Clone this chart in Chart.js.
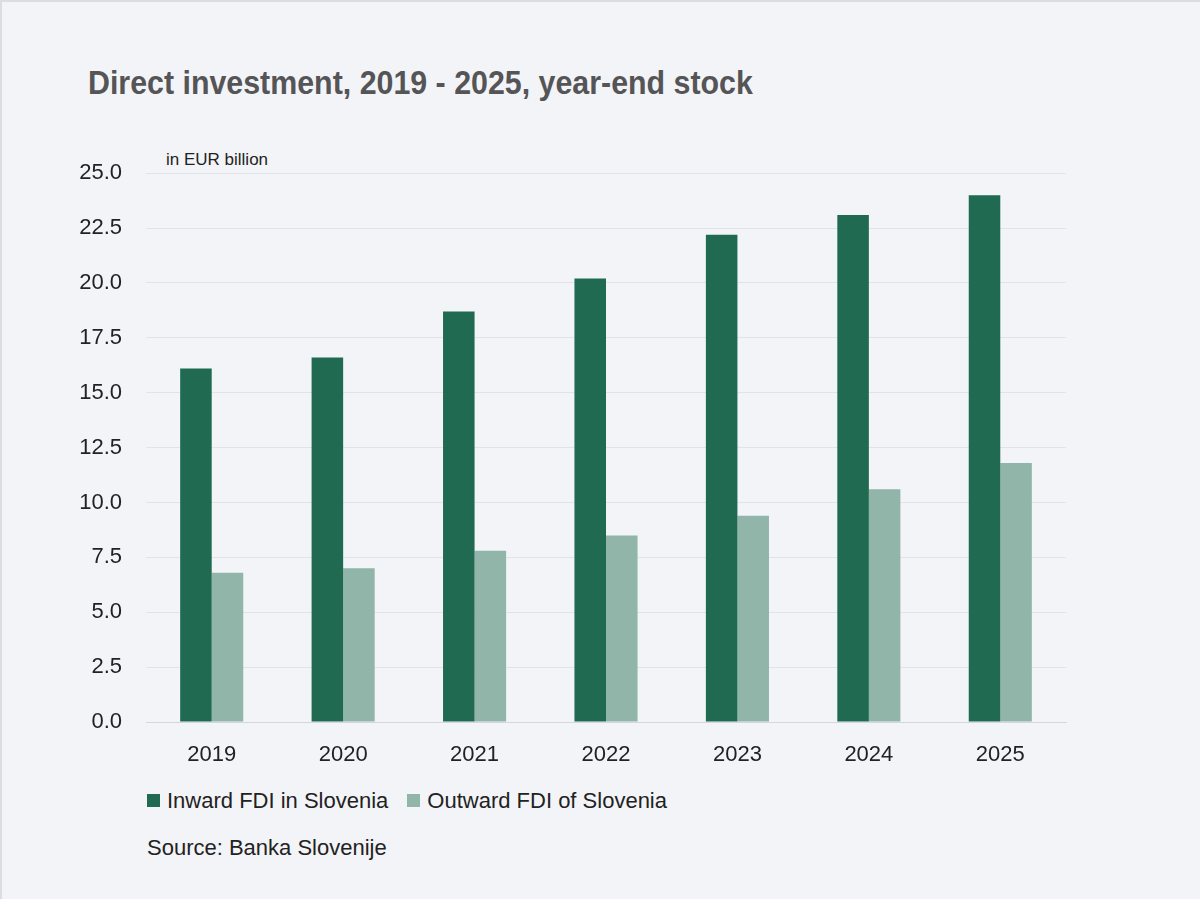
<!DOCTYPE html>
<html>
<head>
<meta charset="utf-8">
<script src="https://cdn.jsdelivr.net/npm/chart.js@4"></script>
<style>
    html, body { margin: 0; padding: 0; }
    body {
        width: 1200px; height: 899px; background: #f3f4f8;
        position: relative; overflow: hidden;
        font-family: "Liberation Sans Narrow", "Liberation Sans", Arial, sans-serif;
        box-sizing: border-box; border-left: 2px solid #dcdde2; border-top: 2px solid #dcdde2;
    }
    .title {
        position: absolute; left: 86px; top: 62px; font-size: 33px; font-weight: bold; color: #555557;
        white-space: nowrap; transform: scaleX(0.92); transform-origin: left center;
    }
    .unit { position: absolute; left: 164px; top: 148px; font-size: 17px; color: #222; }
    .wrap { position: absolute; left: 0; top: 134px; width: 1070px; height: 646px; }
    .legend { position: absolute; left: 145px; top: 786px; font-size: 22px; color: #222; white-space: nowrap; }
    .legend span.item { display: inline-block; margin-right: 19px; }
    .legend span.box { display: inline-block; width: 13px; height: 13px; margin-right: 7px; vertical-align: 1px; }
    .source { position: absolute; left: 145px; top: 833px; font-size: 22px; color: #222; }
</style>
</head>
<body>

<div class="title">Direct investment, 2019 - 2025, year-end stock</div>
<div class="unit">in EUR billion</div>
<div class="wrap"><canvas id="fdiChart"></canvas></div>
<div class="legend" id="legend"></div>
<div class="source">Source: Banka Slovenije</div>

<script>
// =============================
// DATA
// =============================

const years = ["2019", "2020", "2021", "2022", "2023", "2024", "2025"];

const inwardFDI = [16.1, 16.6, 18.7, 20.2, 22.2, 23.1, 24.0];

const outwardFDI = [6.8, 7.0, 7.8, 8.5, 9.4, 10.6, 11.8];

const seriesNames = ["Inward FDI in Slovenia", "Outward FDI of Slovenia"];

const seriesColors = ["#1f6a51", "#91b5a8"];


// =============================
// CHART
// =============================

const fontFamily = '"Liberation Sans Narrow", "Liberation Sans", Arial, sans-serif';

new Chart(document.getElementById("fdiChart"), {
    type: "bar",
    data: {
        labels: years,
        datasets: [
            {
                label: seriesNames[0],
                data: inwardFDI,
                backgroundColor: seriesColors[0],
                categoryPercentage: 0.48,
                barPercentage: 1.0
            },
            {
                label: seriesNames[1],
                data: outwardFDI,
                backgroundColor: seriesColors[1],
                categoryPercentage: 0.48,
                barPercentage: 1.0
            }
        ]
    },
    options: {
        responsive: true,
        maintainAspectRatio: false,
        animation: false,
        layout: { padding: { top: 27, right: 6, left: 0, bottom: 0 } },
        plugins: {
            legend: { display: false },
            tooltip: { enabled: false }
        },
        scales: {
            x: {
                grid: { display: false },
                border: { display: true, color: "#d4d6dc", width: 1 },
                ticks: { color: "#222", font: { family: fontFamily, size: 22 }, padding: 12 },
                afterFit: function (scale) { scale.height = 60; }
            },
            y: {
                min: 0,
                max: 25,
                ticks: {
                    stepSize: 2.5,
                    color: "#222",
                    padding: 24,
                    font: { family: fontFamily, size: 22 },
                    callback: v => v.toFixed(1)
                },
                grid: { color: "#e1e3e9", drawTicks: false },
                border: { display: false },
                afterFit: function (scale) { scale.width = 144; }
            }
        }
    }
});


// =============================
// LEGEND
// =============================

const legend = document.getElementById("legend");

seriesNames.forEach((name, i) => {
    const item = document.createElement("span");
    item.className = "item";
    item.innerHTML = '<span class="box" style="background:' + seriesColors[i] + '"></span>' + name;
    legend.appendChild(item);
});
</script>

</body>
</html>
